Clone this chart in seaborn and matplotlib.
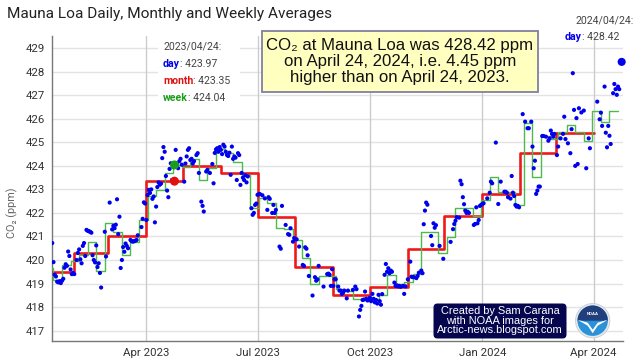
import numpy as np
import pandas as pd
import matplotlib
matplotlib.use("Agg")
import matplotlib.pyplot as plt
import matplotlib.dates as mdates
from matplotlib.patches import Rectangle, FancyBboxPatch, Circle, Wedge, Polygon
import seaborn as sns

# ---------------- data ----------------
daily_2023_01 = {14: 420.72, 15: 419.91, 16: 419.38, 17: 419.30, 18: 419.08, 19: 419.05, 20: 419.10,
                 21: 419.02, 22: 419.12, 23: 419.20, 24: 419.67, 25: 419.82, 26: 419.75, 27: 420.36,
                 28: 420.17, 29: 419.60, 30: 419.40, 31: 419.45}
daily_2023_02 = {1: 419.40, 3: 420.00, 4: 420.30, 5: 420.45, 6: 420.03, 7: 419.86, 8: 420.60, 9: 420.72,
                 10: 420.17, 11: 421.28, 12: 421.24, 13: 421.22, 14: 421.20, 15: 421.16, 16: 420.20,
                 17: 420.00, 18: 419.90, 19: 420.62, 20: 419.70, 21: 419.86, 22: 419.45, 23: 418.83,
                 26: 421.20, 27: 420.15}
daily_2023_03 = {2: 422.44, 4: 421.30, 5: 421.45, 6: 421.35, 7: 421.50, 8: 422.58, 9: 421.10, 10: 421.84,
                 11: 419.66, 12: 420.00, 13: 420.55, 14: 420.35, 15: 420.70, 16: 420.60, 17: 420.50,
                 19: 420.85, 20: 420.80, 21: 420.78, 22: 420.80, 23: 420.82, 24: 420.85, 25: 421.05,
                 28: 421.40, 29: 421.75, 30: 422.45, 31: 422.40}
daily_2023_04 = {1: 421.70, 2: 422.76, 3: 422.98, 4: 422.85, 5: 423.00, 6: 422.60, 7: 422.70, 8: 421.60,
                 9: 422.27, 10: 423.10, 11: 423.30, 12: 423.20, 13: 423.25, 14: 424.33, 15: 424.80,
                 16: 424.60, 17: 423.57, 18: 422.95, 19: 422.67, 20: 423.87, 21: 424.11, 22: 423.40,
                 23: 423.95, 24: 423.97, 25: 424.68, 26: 424.10, 27: 423.90, 28: 424.20, 29: 424.30,
                 30: 424.05}
daily_2023_05 = {2: 423.33, 3: 424.10, 4: 424.40, 5: 424.68, 6: 424.75, 7: 424.25, 8: 424.30, 9: 424.10,
                 10: 424.20, 12: 424.46, 13: 424.54, 14: 423.70, 16: 422.48, 17: 422.30, 18: 422.06,
                 20: 423.76, 21: 423.83, 23: 423.70, 25: 424.08, 26: 423.26, 27: 424.55, 28: 424.70,
                 29: 424.75, 30: 424.60, 31: 424.80}
daily_2023_06 = {1: 424.68, 2: 424.50, 3: 424.90, 4: 424.82, 5: 424.60, 6: 424.46, 7: 424.42, 8: 424.56,
                 9: 423.62, 10: 424.82, 11: 424.30, 12: 424.40, 13: 424.35, 14: 423.40, 15: 424.54,
                 16: 424.46, 17: 423.19, 18: 423.70, 19: 423.50, 20: 423.40, 21: 423.60, 22: 423.30,
                 23: 423.55, 26: 422.20, 27: 421.92, 28: 422.00, 29: 422.34, 30: 422.40}
daily_2023_07 = {1: 422.77, 2: 422.80, 3: 422.80, 5: 422.75, 7: 422.62, 9: 422.13, 10: 422.67, 11: 422.60,
                 13: 422.00, 14: 422.34, 15: 422.00, 16: 422.13, 19: 420.57, 20: 420.48, 21: 422.30,
                 24: 421.49, 26: 421.10, 27: 421.07, 28: 421.35, 30: 420.78, 31: 420.93}
daily_2023_08 = {1: 420.88, 2: 420.88, 4: 420.57, 7: 419.79, 8: 419.75, 9: 420.54, 10: 420.48, 11: 420.20,
                 12: 419.32, 15: 418.49, 17: 419.27, 18: 419.12, 19: 419.18, 20: 419.75, 24: 418.87,
                 27: 419.40, 28: 419.42, 29: 419.37, 30: 418.90, 31: 419.61}
daily_2023_09 = {1: 418.90, 2: 419.18, 3: 419.18, 5: 418.87, 6: 418.70, 7: 418.70, 8: 418.56, 9: 418.61,
                 10: 418.70, 12: 418.37, 13: 418.70, 17: 418.73, 19: 418.87, 20: 418.76, 22: 417.60,
                 23: 417.88, 24: 418.05, 25: 418.30, 26: 418.32, 27: 418.66, 28: 418.35, 29: 418.28,
                 30: 418.30}
daily_2023_10 = {1: 418.40, 2: 418.25, 3: 418.56, 4: 418.35, 5: 418.20, 6: 418.30, 7: 418.15, 8: 418.52,
                 9: 418.25, 10: 418.10, 11: 418.55, 13: 419.37, 14: 419.83, 15: 419.50, 16: 419.65,
                 17: 419.44, 18: 419.55, 19: 419.50, 21: 419.04, 22: 418.90, 23: 418.92, 24: 418.88,
                 25: 418.90, 26: 418.86, 28: 418.90, 29: 418.56, 30: 418.88}
daily_2023_11 = {1: 419.18, 3: 419.93, 4: 419.29, 5: 419.27, 6: 419.27, 8: 419.23, 9: 419.32, 10: 419.46,
                 12: 419.55, 13: 419.44, 14: 421.52, 15: 422.10, 16: 422.44, 17: 422.35, 20: 421.02,
                 21: 420.63, 22: 421.56, 23: 421.37, 24: 421.48, 27: 420.60, 30: 420.05}
daily_2023_12 = {6: 420.77, 8: 421.31, 9: 421.53, 10: 421.67, 11: 421.82, 13: 421.80, 14: 423.37,
                 15: 423.22, 16: 422.67, 17: 422.37, 18: 422.10, 19: 422.00, 20: 422.05, 21: 422.00,
                 25: 421.49, 26: 421.53, 27: 422.24, 28: 421.56, 29: 421.70, 30: 422.30, 31: 422.34}
daily_2024_01 = {1: 422.38, 2: 422.41, 5: 422.62, 7: 422.86, 8: 423.33, 9: 423.26, 12: 424.99, 14: 422.38,
                 16: 423.33, 19: 422.90, 20: 422.90, 21: 422.86, 22: 422.67, 24: 422.61, 25: 423.57,
                 26: 422.86, 27: 422.72, 28: 422.34, 29: 422.27, 30: 422.30, 31: 422.24}
daily_2024_02 = {3: 426.20, 5: 425.88, 7: 425.60, 8: 425.60, 10: 425.88, 11: 424.82, 12: 423.90,
                 13: 424.22, 14: 422.81, 15: 422.95, 16: 423.12, 17: 423.12, 19: 425.27, 20: 425.27,
                 22: 425.24, 24: 425.07, 25: 425.17, 26: 425.50, 27: 425.36, 28: 425.24, 29: 425.36}
daily_2024_03 = {2: 424.46, 3: 424.82, 5: 425.17, 7: 425.36, 8: 426.09, 9: 425.14, 11: 424.96, 13: 424.54,
                 14: 425.56, 15: 427.94, 16: 426.38, 17: 424.00, 18: 426.03, 19: 424.08, 20: 426.45,
                 22: 426.27, 24: 426.35, 26: 423.90, 28: 425.17, 29: 424.75}
daily_2024_04 = {4: 426.73, 6: 425.98, 7: 426.26, 8: 425.70, 10: 427.37, 11: 425.41, 12: 424.79,
                 13: 425.70, 14: 425.28, 15: 424.93, 17: 427.09, 18: 427.48, 19: 427.26, 20: 427.02,
                 21: 427.37, 22: 427.26}

monthly_start = "2023-01-01"
monthly_ppm = [419.47, 420.31, 421.00, 423.35, 423.98, 423.69, 421.84, 419.71, 418.53,
               418.84, 420.47, 421.87, 422.81, 424.56, 425.39]

weekly_start = "2023-01-08"
weekly_ppm = [419.65, 419.15, 419.78, 419.95, 420.22, 420.78, 419.55, 421.56, 421.21, 420.22,
              420.78, 421.70, 422.70, 422.98, 423.69, 424.04, 423.97, 424.28, 423.40, 423.90,
              424.71, 424.54, 424.16, 423.60, 422.20, 422.64, 422.41, 421.35, 421.30, 420.85,
              420.08, 418.98, 419.32, 419.30, 418.75, 418.70, 418.35, 418.30, 418.35, 418.50,
              419.37, 419.00, 419.05, 419.40, 421.20, 421.20, 420.31, 420.99, 422.20, 422.20,
              421.87, 422.55, 423.52, 422.90, 422.88, 422.34, 425.84, 423.54, 425.27, 425.13,
              425.46, 425.74, 425.46, 425.07, 426.35, 425.88, 426.35]

hl_date_2023 = "2023-04-24"
hl_day_2023, hl_month_2023, hl_week_2023 = 423.97, 423.35, 424.04
hl_date_2024 = "2024-04-24"
hl_day_2024 = 428.42

x_ticks = ["2023-04-01", "2023-07-01", "2023-10-01", "2024-01-01", "2024-04-01"]
y_ticks = list(range(417, 430))

# ---------------- build frames ----------------
daily_sets = {"2023-01": daily_2023_01, "2023-02": daily_2023_02, "2023-03": daily_2023_03,
              "2023-04": daily_2023_04, "2023-05": daily_2023_05, "2023-06": daily_2023_06,
              "2023-07": daily_2023_07, "2023-08": daily_2023_08, "2023-09": daily_2023_09,
              "2023-10": daily_2023_10, "2023-11": daily_2023_11, "2023-12": daily_2023_12,
              "2024-01": daily_2024_01, "2024-02": daily_2024_02, "2024-03": daily_2024_03,
              "2024-04": daily_2024_04}
rows = [(pd.Timestamp(f"{ym}-{d:02d}"), v) for ym, dd in daily_sets.items() for d, v in dd.items()]
daily = pd.DataFrame(rows, columns=["date", "ppm"])

m_dates = pd.date_range(monthly_start, periods=len(monthly_ppm), freq="MS")
m_dates = m_dates.append(pd.DatetimeIndex([m_dates[-1] + pd.offsets.MonthBegin(1)]))
monthly = pd.DataFrame({"date": m_dates, "ppm": monthly_ppm + [monthly_ppm[-1]]})

w_dates = pd.date_range(weekly_start, periods=len(weekly_ppm), freq="7D")
w_dates = w_dates.append(pd.DatetimeIndex([w_dates[-1] + pd.Timedelta(days=7)]))
weekly = pd.DataFrame({"date": w_dates, "ppm": weekly_ppm + [weekly_ppm[-1]]})

# ---------------- style ----------------
sns.set_theme(style="white")
plt.rcParams["font.family"] = ["Roboto", "DejaVu Sans"]

W, H = 640, 359
fig = plt.figure(figsize=(W / 100, H / 100), dpi=100)
ax = fig.add_axes([52 / W, 1 - 340.7 / H, (623 - 52) / W, (340.7 - 36) / H])

def fx(x):
    return x / W

def fy(y):
    return 1 - y / H

RED = "#ee1a1a"
GREEN = "#4cbb4c"
BLUE = "#0000ee"

sns.lineplot(data=monthly, x="date", y="ppm", drawstyle="steps-post", color=RED, lw=1.9,
             ax=ax, estimator=None, zorder=3)
sns.lineplot(data=weekly, x="date", y="ppm", drawstyle="steps-post", color=GREEN, lw=1.0,
             ax=ax, estimator=None, zorder=4)
sns.scatterplot(data=daily, x="date", y="ppm", color=BLUE, s=9, edgecolor="none", ax=ax, zorder=5)
sns.scatterplot(x=[pd.Timestamp(hl_date_2023)], y=[hl_month_2023], color="#e01010", s=42,
                edgecolor="none", ax=ax, zorder=6)
sns.scatterplot(x=[pd.Timestamp(hl_date_2023)], y=[hl_week_2023], color="#1a9e1a", s=42,
                edgecolor="none", ax=ax, zorder=6)
sns.scatterplot(x=[pd.Timestamp(hl_date_2024)], y=[hl_day_2024], color=BLUE, s=34,
                edgecolor="none", ax=ax, zorder=6, clip_on=False)

ax.set_xlim(pd.Timestamp("2023-01-13 19:00"), pd.Timestamp("2024-04-25 02:00"))
ax.set_ylim(416.57, 429.52)
ax.set_xticks([pd.Timestamp(t) for t in x_ticks])
ax.xaxis.set_major_formatter(mdates.DateFormatter("%b %Y"))
ax.set_yticks(y_ticks)
ax.set_yticklabels([str(v) for v in y_ticks])
ax.tick_params(axis="both", length=0, labelsize=8.2, colors="#333333", pad=5)
ax.set_xlabel("")
ax.set_ylabel("CO\u2082 (ppm)", color="#666666", fontsize=7.8)
ax.yaxis.set_label_coords(-0.059, 0.42)

ax.grid(False)
for v in y_ticks:
    ax.axhline(v, color="#e3e3e3", lw=1, zorder=0)
for t in x_ticks:
    ax.axvline(pd.Timestamp(t), color="#cccccc", lw=1, zorder=0)
for s in ["top", "right"]:
    ax.spines[s].set_visible(False)
for s in ["left", "bottom"]:
    ax.spines[s].set_color("#777777")
    ax.spines[s].set_linewidth(1)

# title
fig.text(fx(7), fy(14), "Mauna Loa Daily, Monthly and Weekly Averages", fontsize=11.1,
         color="#222222", ha="left", va="center")

# white panel behind left annotation (inside the axes, above grid lines)
ax.add_patch(Rectangle((fx(158), fy(105)), (240 - 158) / W, (105 - 38) / H,
                       transform=fig.transFigure, fc="white", ec="none", zorder=1, clip_on=False))

FS = 7.6

def labeled(x, y, word, wcolor, rest, ha_word="left"):
    t = ax.text(fx(x), fy(y), word, color=wcolor, fontweight="bold", fontsize=FS,
                ha=ha_word, va="center", transform=fig.transFigure, zorder=10, clip_on=False)
    ax.annotate(rest, xy=(1, 0), xycoords=t, ha="left", va="bottom", color="#444444",
                fontsize=FS, zorder=10, annotation_clip=False)

ax.text(fx(163), fy(47), "2023/04/24:", color="#444444", fontsize=FS, ha="left", va="center",
        transform=fig.transFigure, zorder=10, clip_on=False)
labeled(163, 64, "day", BLUE, f": {hl_day_2023:.2f}")
labeled(163, 81, "month", "#e01010", f": {hl_month_2023:.2f}")
labeled(163, 98, "week", "#1a9e1a", f": {hl_week_2023:.2f}")

fig.text(fx(634), fy(20), "2024/04/24:", color="#444444", fontsize=FS, ha="right", va="center")
labeled(565, 37, "day", BLUE, f": {hl_day_2024:.2f}")

# yellow box
fig.add_artist(Rectangle((fx(261.7), fy(91.7)), (538.3 - 261.7) / W, (91.7 - 30.7) / H,
                         transform=fig.transFigure, fc="#ffffc0", ec="#8080a0", lw=1.3, zorder=8))
fig.text(fx(400), fy(61.5),
         f"CO\u2082 at Mauna Loa was {hl_day_2024:.2f} ppm\non April 24, 2024, i.e. "
         f"{hl_day_2024 - hl_day_2023:.2f} ppm\nhigher than on April 24, 2023.",
         ha="center", va="center", fontsize=12.1, linespacing=1.1, color="#111111",
         family=["Liberation Sans", "DejaVu Sans"], zorder=9)

# credit box
fig.add_artist(FancyBboxPatch((4.335, (359 - 338.5) / 100), 1.33, 0.35,
                              boxstyle="round,pad=0,rounding_size=0.04",
                              transform=fig.dpi_scale_trans, fc="#06064f", ec="none", zorder=8))
fig.text(fx(500), fy(320.5),
         "Created by Sam Carana\nwith NOAA images for\nArctic-news.blogspot.com",
         ha="center", va="center", fontsize=7.9, linespacing=0.98, color="white",
         family=["Liberation Sans", "DejaVu Sans"], zorder=9)

# NOAA-like emblem
cx, cy = 5.927, (359 - 320.7) / 100
tr = fig.dpi_scale_trans
fig.add_artist(Circle((cx, cy), 0.172, transform=tr, fc="#e4e8ee", ec="#c8ccd4", lw=0.6, zorder=8))
fig.add_artist(Circle((cx, cy), 0.152, transform=tr, fc="#2a93d8", ec="none", zorder=8))
fig.add_artist(Wedge((cx, cy), 0.152, 0, 180, transform=tr, fc="#203f7c", ec="none", zorder=8))
fig.add_artist(Polygon([(cx - 0.152, cy + 0.01), (cx - 0.05, cy - 0.02), (cx, cy - 0.09),
                        (cx + 0.05, cy - 0.02), (cx + 0.152, cy + 0.01), (cx + 0.05, cy - 0.05),
                        (cx, cy - 0.125), (cx - 0.05, cy - 0.05)],
                       closed=True, transform=tr, fc="white", ec="none", zorder=9))
fig.text(cx / 6.4, cy / 3.59 + 0.02, "NOAA", color="white", fontsize=3.2, ha="center",
         va="center", fontweight="bold", zorder=10)

fig.savefig("out.png", dpi=100)
